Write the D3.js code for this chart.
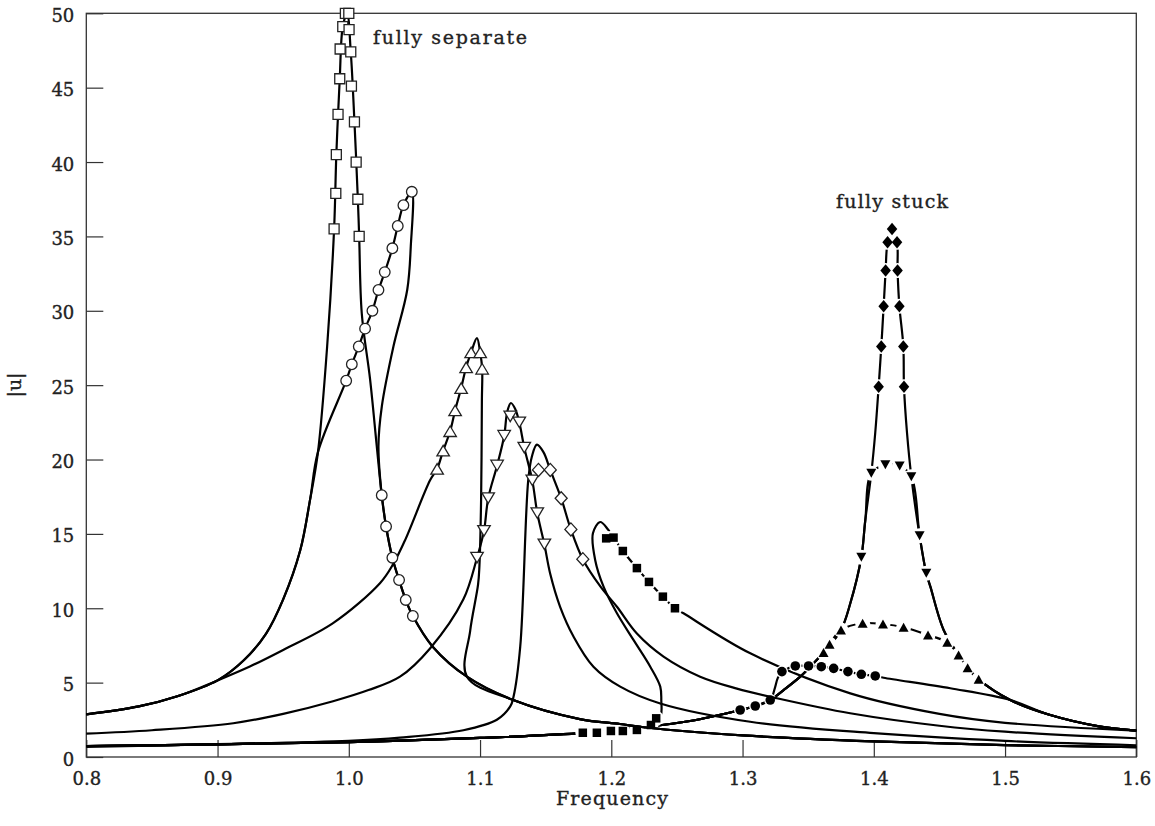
<!DOCTYPE html>
<html>
<head>
<meta charset="utf-8">
<script src="https://cdn.jsdelivr.net/npm/d3@7"></script>
<style>
  body { margin: 0; background: #fff; }
  text { font-family: "DejaVu Serif", serif; fill: #222; stroke: #222; stroke-width: 0.35px; }
</style>
</head>
<body>
<svg id="chart" width="1155" height="826"></svg>
<script>
// values, [frequency, |u|]
const xTicks = [0.8, 0.9, 1.0, 1.1, 1.2, 1.3, 1.4, 1.5, 1.6];
const yTicks = [0, 5, 10, 15, 20, 25, 30, 35, 40, 45, 50];

// low amplitude branch shared by the "separate" family
const sepLow = [[0.80,2.87],[0.84,3.4],[0.87,4.1],[0.90,5.15]];
const sepSteep = [[0.92,6.5],[0.937,8.3],[0.95,10.6],[0.963,13.9],[0.9705,17.3],[0.9765,20.5]];
const sepFall = [[1.0251,17.6],[1.0284,15.5],[1.0332,13.4],[1.0383,11.9],[1.0434,10.56],[1.0488,9.48],[1.0641,7.4]];
const sepTail = [[1.09,5.4],[1.1253,3.83],[1.176,2.55],[1.2066,2.22],[1.2247,2.0],[1.30,1.45],[1.40,1.05],[1.50,0.80],[1.60,0.67]];

// fully separate (open squares)
const sqLine = [[0.9835,27.6],[0.9888,35.5],[0.9905,40.5],[0.9931,45.6],[0.9954,49.1],[0.9987,50.0],
  [1.0015,47.4],[1.0043,42.7],[1.0069,37.5],[1.0079,35.0],[1.0099,29.8],[1.0162,25.4],[1.0213,20.9]];
const sqMarks = [[0.9888,35.5],[0.9901,37.9],[0.9905,40.5],[0.9918,43.2],[0.9931,45.6],[0.9934,47.6],
  [0.9954,49.1],[0.9974,50.0],[1.0000,50.0],[1.0002,48.9],[1.0015,47.4],[1.0020,45.1],[1.0043,42.7],
  [1.0056,40.0],[1.0069,37.5],[1.0079,35.0]];

// open circles
const circRise = [[0.998,25.3],[1.0023,26.4],[1.0076,27.6],[1.0124,28.8],[1.018,30.0],[1.0226,31.4],
  [1.0274,32.6],[1.0332,34.2],[1.0373,35.7],[1.0416,37.1],[1.048,38.0]];
const circDrop = [[1.0472,34.3],[1.0445,31.4],[1.034,27.6],[1.0252,23.6],[1.0226,20.9]];

// open triangles up
const triUpRise = [[0.925,6.1],[0.95,7.2],[0.988,9.0],[1.0239,11.7],[1.034,13.0],[1.043,14.6],[1.0619,18.6]];
const triUpMarks = [[1.0673,19.37],[1.0719,20.6],[1.0772,21.9],[1.081,23.3],[1.0856,24.8],[1.0894,26.2],
  [1.0932,27.2],[1.1001,27.2],[1.1016,26.1]];
const triUpDrop = [[1.1014,24.0],[1.1008,17.3],[1.0995,12.8],[1.0985,11.6],[1.0925,8.5]];

// open triangles down
const triDnLeft = [[0.80,1.57],[0.85,1.8],[0.912,2.27],[0.95,2.9],[0.988,3.75],[1.015,4.5],[1.039,5.4],
  [1.0619,7.3],[1.0873,10.6]];
const triDnMarks = [[1.0977,13.4],[1.103,15.2],[1.1062,17.4],[1.113,19.6],[1.1184,21.6],[1.123,22.9],
  [1.1299,22.5],[1.1337,20.8],[1.1398,18.6],[1.1436,16.4],[1.149,14.3]];
const triDnTop = [[1.1207,23.2],[1.1235,23.8],[1.1268,23.4]];
const triDnFall = [[1.1535,12.3],[1.161,10.1],[1.1712,8.1],[1.1864,6.07],[1.2068,4.73],[1.2373,3.6],
  [1.3058,2.37],[1.40,1.6],[1.50,1.08],[1.60,0.79]];

// open diamonds
const diamLeft = [[0.80,0.68],[0.90,0.86],[1.00,1.08],[1.039,1.3],[1.0873,1.8],[1.1128,2.5],[1.123,3.4],
  [1.1255,4.05],[1.1306,7.4],[1.1367,18.6],[1.1395,20.2],[1.1433,21.0],[1.1483,20.5]];
const diamMarks = [[1.1445,19.3],[1.1535,19.3],[1.1618,17.4],[1.1692,15.3],[1.1783,13.3]];
const diamFall = [[1.1918,11.45],[1.2043,10.1],[1.2195,8.3],[1.2398,6.75],[1.2677,5.4],[1.2957,4.6],
  [1.3262,3.95],[1.382,2.94],[1.45,2.1],[1.50,1.7],[1.60,1.26]];

// low amplitude branch shared by the "stuck" family
const stuckLeft = [[0.80,0.74],[0.90,0.85],[1.00,1.0],[1.10,1.28],[1.18,1.62],[1.2247,2.0],[1.26,2.42],
  [1.2982,3.16],[1.3097,3.43],[1.3211,3.83],[1.3313,4.5],[1.344,5.4],[1.3516,6.07],[1.3617,7.02]];
const stuckUpper = [[1.375,8.54],[1.382,10.3],[1.3905,13.43],[1.3935,15.9],[1.3981,19.08]];
const stuckDown = [[1.4286,18.85],[1.4349,14.88],[1.44,12.35],[1.4431,11.45]];
const stuckRight = [[1.4532,8.54],[1.4646,6.86],[1.4715,6.0],[1.4799,5.22],[1.504,3.83],[1.5345,2.82],
  [1.5726,2.04],[1.60,1.77]];

// filled squares
const fsqHook = [[1.234,2.3],[1.2378,2.8],[1.2381,3.8],[1.2373,4.73],[1.2297,6.07],[1.2169,7.87],
  [1.2043,9.66],[1.1941,11.45],[1.1877,13.25],[1.186,15.04],[1.1915,15.8],[1.1975,15.3]];
const fsqMarksLow = [[1.1783,1.63],[1.189,1.63],[1.1997,1.75],[1.2088,1.75],[1.2195,1.82],[1.2302,2.15],[1.2342,2.6]];
const fsqMarksHigh = [[1.1961,14.7],[1.2017,14.75],[1.2088,13.85],[1.2195,12.7],[1.2287,11.77],[1.2393,10.78],[1.2485,10.0]];
const fsqFall = [[1.255,9.66],[1.3059,6.97],[1.3821,4.28],[1.45,2.9],[1.50,2.3],[1.60,1.77]];

// filled circles
const fcMarks = [[1.2982,3.16],[1.3097,3.43],[1.3211,3.83],[1.33,5.74],[1.3402,6.12],[1.3503,6.12],
  [1.36,6.07],[1.3694,5.96],[1.3803,5.74],[1.3905,5.56],[1.4011,5.45]];
const fcHook = [[1.3245,4.6],[1.3268,5.3]];
const fcFall = [[1.4075,5.33],[1.4583,4.62]];

// filled triangles up
const ftuMarks = [[1.3617,7.02],[1.3663,7.58],[1.375,8.54],[1.3915,8.99],[1.407,8.94],[1.4227,8.72],
  [1.4413,8.2],[1.456,7.71],[1.4646,6.86],[1.4715,6.0],[1.4799,5.22]];

// filled triangles down
const ftdMarks = [[1.3905,13.43],[1.3981,19.08],[1.4088,19.64],[1.4197,19.57],[1.4286,18.85],[1.4349,14.88],[1.44,12.35]];
const ftdTop = [[1.4088,19.64],[1.4197,19.57]];

// fully stuck (filled diamonds)
const fdMarks = [[1.4139,35.5],[1.4105,34.6],[1.4177,34.6],[1.409,32.7],[1.4181,32.7],[1.4075,30.3],
  [1.4195,30.3],[1.4057,27.6],[1.4225,27.6],[1.4037,24.9],[1.423,24.9]];
const fdPeak = [[1.4011,21.8],[1.4037,24.9],[1.4057,27.6],[1.4075,30.3],[1.409,32.7],[1.4105,34.6],
  [1.4139,35.5],[1.4177,34.6],[1.4181,32.7],[1.4195,30.3],[1.4225,27.6],[1.423,24.9],[1.4253,21.8]];

const series = [
  {shape: "square", filled: false, line: [...sepLow, ...sepSteep, ...sqLine, ...sepFall, ...sepTail], marks: sqMarks},
  {shape: "circle", filled: false, line: [...sepLow, ...sepSteep, ...circRise, ...circDrop, ...sepFall, ...sepTail],
    marks: [...circRise, ...sepFall.slice(0, 6)]},
  {shape: "triUp", filled: false, line: [...sepLow, ...triUpRise, ...triUpMarks.slice(0, 7), [1.0976,28.16],
    ...triUpMarks.slice(7), ...triUpDrop, ...sepTail], marks: triUpMarks},
  {shape: "triDown", filled: false, line: [...triDnLeft, ...triDnMarks.slice(0, 5), ...triDnTop,
    ...triDnMarks.slice(6), ...triDnFall], marks: triDnMarks},
  {shape: "diamond", filled: false, line: [...diamLeft, ...diamMarks.slice(1), ...diamFall], marks: diamMarks},
  {shape: "square", filled: true, line: [...stuckLeft.slice(0, 6), ...fsqHook, ...fsqMarksHigh.slice(1), ...fsqFall],
    marks: [...fsqMarksLow, ...fsqMarksHigh]},
  {shape: "circle", filled: true, line: [...stuckLeft.slice(0, 10), ...fcHook, ...fcMarks.slice(3), ...fcFall,
    ...stuckRight.slice(4)], marks: fcMarks},
  {shape: "triUp", filled: true, line: [...stuckLeft, ...ftuMarks.slice(1), ...stuckRight.slice(4)], marks: ftuMarks},
  {shape: "triDown", filled: true, line: [...stuckLeft, ...stuckUpper, ...ftdTop, ...stuckDown, ...stuckRight],
    marks: ftdMarks},
  {shape: "diamond", filled: true, line: [...stuckLeft, ...stuckUpper, ...fdPeak, ...stuckDown, ...stuckRight],
    marks: fdMarks}
];

const W = 1155, H = 826;
const x = d3.scaleLinear().domain([0.8, 1.6]).range([86.3, 1136.3]);
const y = d3.scaleLinear().domain([0, 50]).range([757, 13.3]);

const svg = d3.select("#chart");

// marker outlines, centred on 0,0
function markerPath(shape, filled) {
  if (shape === "square") {
    let s = filled ? 8.5 : 10, h = s / 2;
    return `M${-h},${-h}h${s}v${s}h${-s}Z`;
  }
  if (shape === "circle") {
    let r = filled ? 4.8 : 5.3;
    return `M${-r},0a${r},${r} 0 1,0 ${2 * r},0a${r},${r} 0 1,0 ${-2 * r},0Z`;
  }
  if (shape === "triUp" || shape === "triDown") {
    let w = filled ? 10 : 12.5, h = filled ? 9 : 10.5;
    let s = shape === "triUp" ? 1 : -1;
    return `M0,${-s * h / 2}L${w / 2},${s * h / 2}L${-w / 2},${s * h / 2}Z`;
  }
  let w = filled ? 10.5 : 12, h = filled ? 12.5 : 13;
  return `M0,${-h / 2}L${w / 2},0L0,${h / 2}L${-w / 2},0Z`;
}

// gaps in the lines of the filled-marker curves
const defs = svg.append("defs");
const mask = defs.append("mask").attr("id", "gaps")
  .attr("maskUnits", "userSpaceOnUse")
  .attr("x", 0).attr("y", 0).attr("width", W).attr("height", H);
mask.append("rect").attr("width", W).attr("height", H).attr("fill", "white");
series.filter(s => s.filled).forEach(s => {
  mask.selectAll(null)
    .data(s.marks)
    .enter().append("circle")
    .attr("cx", d => x(d[0]))
    .attr("cy", d => y(d[1]))
    .attr("r", s.shape === "circle" ? 6.2 : 7.5)
    .attr("fill", "black");
});

const line = d3.line()
  .x(d => x(d[0]))
  .y(d => y(d[1]))
  .curve(d3.curveCatmullRom.alpha(0.5));

// axes, ticks pointing inward
const xAxis = svg.append("g")
  .attr("transform", `translate(0,${y(0)})`)
  .call(d3.axisBottom(x).tickValues(xTicks).tickSize(-17).tickPadding(15)
    .tickFormat(d3.format(".1f")));
const yAxis = svg.append("g")
  .attr("transform", `translate(${x(0.8)},0)`)
  .call(d3.axisLeft(y).tickValues(yTicks).tickSize(-17).tickPadding(12));
[xAxis, yAxis].forEach(g => {
  g.select(".domain").remove();
  g.selectAll(".tick line").attr("stroke", "#333").attr("stroke-width", 1.2);
  g.selectAll(".tick text").attr("font-family", "DejaVu Serif").attr("font-size", 18).attr("fill", "#222");
});
yAxis.selectAll(".tick text").attr("dy", "0.45em");

svg.append("rect")
  .attr("x", x(0.8)).attr("y", y(50))
  .attr("width", x(1.6) - x(0.8)).attr("height", y(0) - y(50))
  .attr("fill", "none").attr("stroke", "#333").attr("stroke-width", 1.3);

// curves
svg.append("g").attr("mask", "url(#gaps)")
  .selectAll("path")
  .data(series.filter(s => s.filled))
  .enter().append("path")
  .attr("d", s => line(s.line))
  .attr("fill", "none").attr("stroke", "#000").attr("stroke-width", 2.2);

svg.append("g")
  .selectAll("path")
  .data(series.filter(s => !s.filled))
  .enter().append("path")
  .attr("d", s => line(s.line))
  .attr("fill", "none").attr("stroke", "#000").attr("stroke-width", 2.2);

// markers
series.forEach(s => {
  svg.append("g")
    .selectAll("path")
    .data(s.marks)
    .enter().append("path")
    .attr("transform", d => `translate(${x(d[0])},${y(d[1])})`)
    .attr("d", markerPath(s.shape, s.filled))
    .attr("fill", s.filled ? "#000" : "#fff")
    .attr("stroke", s.filled ? "none" : "#222")
    .attr("stroke-width", 1.3);
});

// labels
svg.append("text").attr("x", 373).attr("y", 44)
  .attr("font-size", 19).attr("textLength", 154).attr("lengthAdjust", "spacing")
  .text("fully separate");
svg.append("text").attr("x", 836).attr("y", 208)
  .attr("font-size", 19).attr("textLength", 112).attr("lengthAdjust", "spacing")
  .text("fully stuck");
svg.append("text").attr("x", 612).attr("y", 805)
  .attr("text-anchor", "middle").attr("font-size", 19)
  .attr("textLength", 112).attr("lengthAdjust", "spacing")
  .text("Frequency");
svg.append("text")
  .attr("transform", `translate(21,385) rotate(-90)`)
  .attr("text-anchor", "middle").attr("font-size", 19)
  .text("|u|");
</script>
</body>
</html>
